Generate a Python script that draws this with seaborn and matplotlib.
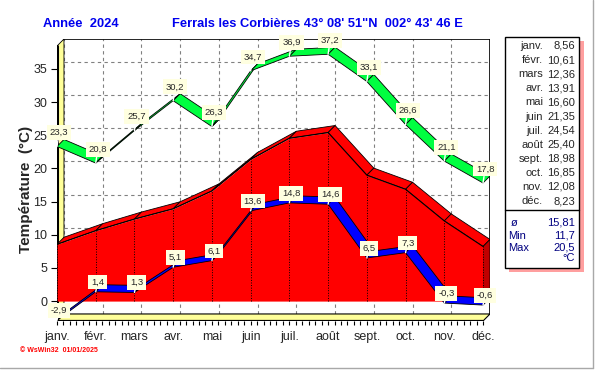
import numpy as np
import pandas as pd
import seaborn as sns
import matplotlib.pyplot as plt
from matplotlib.patches import Polygon, Rectangle
from matplotlib.lines import Line2D

# monthly values, Ferrals les Corbières 2024
months = ["janv.", "févr.", "mars", "avr.", "mai", "juin", "juil.", "août",
          "sept.", "oct.", "nov.", "déc."]
t_max = [23.3, 20.8, 25.7, 30.2, 26.3, 34.7, 36.9, 37.2, 33.1, 26.6, 21.1, 17.8]
t_mean = [8.56, 10.61, 12.36, 13.91, 16.60, 21.35, 24.54, 25.40, 18.98, 16.85, 12.08, 8.23]
t_min = [-2.9, 1.4, 1.3, 5.1, 6.1, 13.6, 14.8, 14.6, 6.5, 7.3, -0.3, -0.6]
y_ticks = [0, 5, 10, 15, 20, 25, 30, 35]
stat_names = ["ø", "Min", "Max"]
stat_values = ["15,81", "11,7", "20,5"]

W, H = 603, 370
DX, DY = 0.18, 1.06      # fake 3D depth (months, °C)
Y0, Y1 = -3.0, 39.5
YELLOW = "#ffff99"
BLUE_TXT = "#0000ee"


def fr(v, d=1):
    return f"{v:.{d}f}".replace(".", ",")


def ribbon(ax, x, y, fc, z):
    # top surface of a 3D band, one parallelogram per segment
    for i in range(len(x) - 1):
        pts = [(x[i], y[i]), (x[i + 1], y[i + 1]),
               (x[i + 1] + DX, y[i + 1] + DY), (x[i] + DX, y[i] + DY)]
        ax.add_patch(Polygon(pts, closed=True, fc=fc, ec="black", lw=0.6, zorder=z))


def labels(ax, x, y, off, z):
    for xi, yi in zip(x, y):
        ax.annotate(fr(yi), xy=(xi, yi), xytext=(1.5, off), textcoords="offset points",
                    ha="center", va="center", fontsize=6.8, zorder=z,
                    bbox=dict(boxstyle="square,pad=0.3", fc="#ffffe0", ec="none"),
                    arrowprops=dict(arrowstyle="-", color="white", lw=1,
                                    shrinkA=0, shrinkB=0))


df = pd.DataFrame({"mois": np.arange(len(months)), "max": t_max,
                   "moy": t_mean, "min": t_min})
x = df["mois"].to_numpy(dtype=float)
n = len(x) - 1

sns.set_theme(style="ticks")
plt.rcParams["font.family"] = ["Liberation Sans", "DejaVu Sans"]

fig = plt.figure(figsize=(W / 100, H / 100), dpi=100)
ax = fig.add_axes([57 / W, 1 - 321 / H, 433 / W, 282 / H])
ax.set_xlim(0, n + DX)
ax.set_ylim(Y0, Y1)
for s in ax.spines.values():
    s.set_visible(False)

# back wall + dashed grid
ax.add_patch(Rectangle((DX, Y0 + DY), n, Y1 - Y0 - DY, fc="white", ec="none", zorder=0))
for v in y_ticks:
    ax.plot([DX, n + DX], [v + DY, v + DY], color="#808080", ls=(0, (3, 3)), lw=0.8, zorder=1)
for xi in x:
    ax.plot([xi + DX, xi + DX], [Y0 + DY, Y1], color="#808080", ls=(0, (3, 3)), lw=0.8, zorder=1)
ax.plot([DX, n + DX], [Y1, Y1], color="black", lw=1.2, zorder=2)
ax.plot([n + DX, n + DX], [Y0 + DY, Y1], color="black", lw=1.2, zorder=2)

# left wall and floor
ax.add_patch(Polygon([(0, Y0), (0, Y1 - DY), (DX, Y1), (DX, Y0 + DY)],
                     fc=YELLOW, ec="black", lw=0.6, zorder=2))
ax.plot([0, 0], [Y0, Y1 - DY], color="black", lw=2.2, zorder=2.5)
ax.add_patch(Polygon([(0, Y0), (n, Y0), (n + DX, Y0 + DY), (DX, Y0 + DY)],
                     fc=YELLOW, ec="black", lw=0.8, zorder=2))
ax.plot([0, n], [Y0, Y0], color="black", lw=1.6, zorder=2.5)

# maxima (green band)
ribbon(ax, x, df["max"].to_numpy(), "#00ff40", 3)

# mean (red solid block)
ym = df["moy"].to_numpy()
ribbon(ax, x, ym, "#ff0000", 4)
ax.add_patch(Polygon([(n, 0), (n, ym[-1]), (n + DX, ym[-1] + DY), (n + DX, DY)],
                     fc="#c00000", ec="black", lw=0.6, zorder=4))
ax.fill_between(x, 0, ym, color="#ff0000", lw=0, zorder=5)
ax.vlines(x, 0, ym, colors="black", linestyles=":", lw=0.7, zorder=5.5)
sns.lineplot(data=df, x="mois", y="moy", color="black", lw=0.8, ax=ax, zorder=5.6)

# minima (blue band)
ribbon(ax, x, df["min"].to_numpy(), "#0000ff", 7)

labels(ax, x, df["max"], 10, 10)
labels(ax, x, df["min"], 7, 10)

ax.set_xticks(x, months)
ax.set_xticks(np.arange(0, n + 0.01, 1 / 6), minor=True)
ax.set_yticks(y_ticks)
ax.tick_params(axis="x", which="both", length=3, width=0.8, pad=4.5, labelsize=9, color="black")
ax.tick_params(axis="y", length=4, width=0.8, pad=3, labelsize=9, color="black")
ax.set_xlabel("")
ax.set_ylabel("Température  (°C)", fontsize=11, fontweight="bold")
ax.yaxis.set_label_coords((33 - 57) / 433, (321 - 189) / 282)

# titles
fig.text(43 / W, 1 - 24 / H, "Année  2024", color=BLUE_TXT, fontsize=9.3,
         fontweight="bold", va="center")
fig.text(172 / W, 1 - 24 / H, "Ferrals les Corbières 43° 08' 51\"N  002° 43' 46 E",
         color=BLUE_TXT, fontsize=9.3, fontweight="bold", va="center")

# table of monthly means
fig.patches.append(Rectangle((509 / W, 1 - 272 / H), 75 / W, 231 / H,
                             transform=fig.transFigure, fc="#ff9f9f", ec="none"))
fig.patches.append(Rectangle((505 / W, 1 - 268 / H), 74 / W, 231 / H,
                             transform=fig.transFigure, fc="white", ec="black", lw=1))
fig.add_artist(Line2D([505 / W, 579 / W], [1 - 210 / H] * 2, color="black", lw=1,
                      transform=fig.transFigure))
for i, (m, v) in enumerate(zip(months, t_mean)):
    yy = 1 - (46 + i * 14.1) / H
    fig.text(543 / W, yy, m, ha="right", va="center", fontsize=8)
    fig.text(575 / W, yy, fr(v, 2), ha="right", va="center", fontsize=8)
for i, (s, v) in enumerate(zip(stat_names, stat_values)):
    yy = 1 - (223 + i * 12.5) / H
    fig.text((511 if s == "ø" else 508) / W, yy, s, ha="left", va="center",
             fontsize=8, color="#000080")
    fig.text(575 / W, yy, v, ha="right", va="center", fontsize=8, color="#000080")
fig.text(575 / W, 1 - 258 / H, "°C", ha="right", va="center", fontsize=8, color="#000080")

fig.text(20 / W, 1 - 350 / H, "© WsWin32  01/01/2025", color="red", fontsize=5,
         fontweight="bold", va="center")

# window frame lines
fig.add_artist(Line2D([593 / W] * 2, [1 - 368 / H, 1], color="#a8a8a8", lw=1,
                      transform=fig.transFigure))
fig.add_artist(Line2D([0, 593 / W], [1 - 368 / H] * 2, color="#a8a8a8", lw=1,
                      transform=fig.transFigure))

fig.savefig("out.png", dpi=100)
